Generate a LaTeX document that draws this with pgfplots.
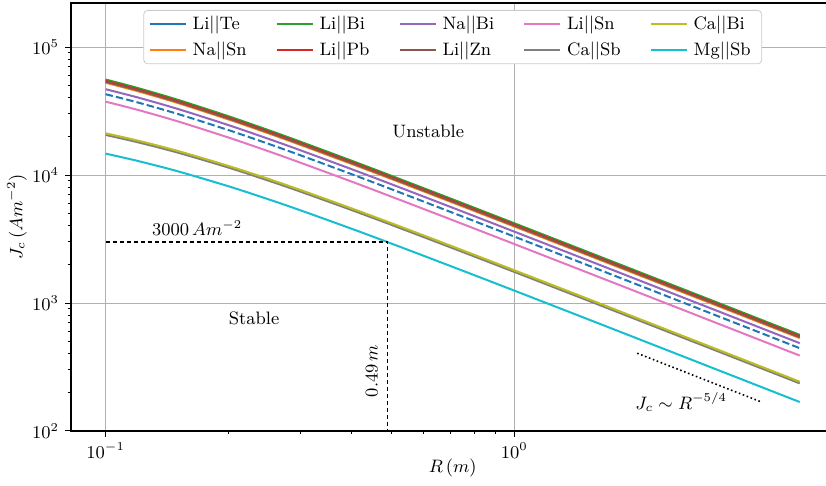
\documentclass[border=0pt]{standalone}
\usepackage{pgfplots}
\usepackage{pgfplotstable}
\pgfplotsset{compat=1.18}

% tab10 colours
\definecolor{tblue}{HTML}{1F77B4}
\definecolor{torange}{HTML}{FF7F0E}
\definecolor{tgreen}{HTML}{2CA02C}
\definecolor{tred}{HTML}{D62728}
\definecolor{tpurple}{HTML}{9467BD}
\definecolor{tbrown}{HTML}{8C564B}
\definecolor{tpink}{HTML}{E377C2}
\definecolor{tgray}{HTML}{7F7F7F}
\definecolor{tolive}{HTML}{BCBD22}
\definecolor{tcyan}{HTML}{17BECF}

% critical current density J_c (A m^-2) against radius R (m)
\pgfplotstableread{
R    LiTe   NaSn   LiBi   LiPb   NaBi   LiZn   LiSn   CaSb   CaBi   MgSb
0.1  42790  52622  55740  54346  46810  53477  37440  20560  21185  14690
0.12 36844  45098  47770  46575  40306  45831  32238  18012  18559  12869
0.15 30037  36573  38740  37771  32859  37167  26281  14979  15434  10702
0.2  22415  27142  28750  28031  24521  27583  19613  11420  11767  8160
0.25 17551  21194  22450  21889  19200  21539  15357  9055   9330   6470
0.3  14251  17172  18190  17735  15590  17452  12469  7410   7635   5294
0.4  10151  12207  12930  12607  11105  12405  8882   5323   5485   3803
0.5  7755   9319   9871   9624   8484   9470   6786   4084   4208   2918
0.7  5136   6167   6532   6369   5619   6267   4494   2715   2798   1940
1    3305   3965   4200   4095   3615   4029   2891   1751   1804   1251
1.5  1996   2394   2536   2473   2183   2433   1746   1059   1091   756.5
2    1394   1672   1771   1727   1525   1699   1220   739.6  762.1  528.5
3    840.2  1008   1068   1041   919.1  1025   735.1  445.9  459.5  318.6
4    586.5  703.6  745.3  726.7  641.6  715.0  513.2  311.3  320.8  222.5
5    443.8  532.4  563.9  549.8  485.5  541.0  388.3  235.6  242.8  168.4
}\jc

\begin{document}
\fontsize{9}{11}\selectfont
\begin{tikzpicture}
\begin{axis}[
    name=ax,
    scale only axis,
    width=381.7pt,
    height=214pt,
    xmode=log, ymode=log,
    xmin=0.08225, xmax=6.0795,
    ymin=100, ymax=220800,
    xtick={0.1,1},
    ytick={100,1000,10000,100000},
    tick align=outside,
    tick pos=left,
    major tick length=2.8pt,
    minor tick length=1.6pt,
    every tick/.style={black, line width=0.5pt},
    axis line style={black, line width=0.6pt},
    grid=major,
    major grid style={black!31, line width=0.45pt},
    clip mode=individual,
    xlabel={$R\,(m)$},
    ylabel={$J_c\,(Am^{-2})$},
    xlabel style={at={(axis description cs:0.5,0)}, anchor=center, yshift=-18.5pt},
    ylabel style={at={(axis description cs:-0.0707,0.5)}, anchor=center},
    legend columns=5,
    legend cell align=left,
    legend image code/.code={\draw[#1, solid] (0pt,0pt) -- (18pt,0pt);},
    legend style={at={(0.5,1)}, anchor=north, yshift=-3.5pt,
        draw=black!20, rounded corners=2pt, fill=white,
        inner xsep=2.5pt, inner ysep=1.5pt, row sep=1.5pt,
        nodes={inner xsep=3pt, inner ysep=1.5pt},
        /tikz/every odd column/.append style={column sep=0pt},
        /tikz/every even column/.append style={column sep=11.5pt}},
    every axis plot/.append style={line width=1pt},
]
% curves, drawn in the original order
\addplot[forget plot, tblue, smooth, dash pattern=on 3.7pt off 1.6pt] table[x=R, y=LiTe] {\jc};
\addplot[forget plot, torange, smooth] table[x=R, y=NaSn] {\jc};
\addplot[forget plot, tgreen, smooth] table[x=R, y=LiBi] {\jc};
\addplot[forget plot, tred, smooth] table[x=R, y=LiPb] {\jc};
\addplot[forget plot, tpurple, smooth] table[x=R, y=NaBi] {\jc};
\addplot[forget plot, tbrown, smooth] table[x=R, y=LiZn] {\jc};
\addplot[forget plot, tpink, smooth] table[x=R, y=LiSn] {\jc};
\addplot[forget plot, tgray, smooth] table[x=R, y=CaSb] {\jc};
\addplot[forget plot, tolive, smooth] table[x=R, y=CaBi] {\jc};
\addplot[forget plot, tcyan, smooth] table[x=R, y=MgSb] {\jc};

% legend filled column by column, as in the original
\addlegendimage{tblue, line width=1pt}
\addlegendimage{tgreen, line width=1pt}
\addlegendimage{tpurple, line width=1pt}
\addlegendimage{tpink, line width=1pt}
\addlegendimage{tolive, line width=1pt}
\addlegendimage{torange, line width=1pt}
\addlegendimage{tred, line width=1pt}
\addlegendimage{tbrown, line width=1pt}
\addlegendimage{tgray, line width=1pt}
\addlegendimage{tcyan, line width=1pt}
\legend{Li$||$Te, Li$||$Bi, Na$||$Bi, Li$||$Sn, Ca$||$Bi, Na$||$Sn, Li$||$Pb, Li$||$Zn, Ca$||$Sb, Mg$||$Sb}

% stability threshold and slope guide
\addplot[forget plot, black, line width=0.6pt, dash pattern=on 2.2pt off 1.3pt]
    coordinates {(0.1,3000) (0.49,3000) (0.49,100)};
\addplot[forget plot, black, line width=0.8pt, dash pattern=on 0.8pt off 1.3pt]
    coordinates {(2,405) (4,170)};

\node at (axis cs:0.616,21780) {Unstable};
\node at (axis cs:0.2309,764) {Stable};
\node at (axis cs:0.1675,3855) {$3000\,Am^{-2}$};
\node[rotate=90] at (axis cs:0.448,294) {$0.49\,m$};
\node at (axis cs:2.564,168.5) {$J_c \sim R^{-5/4}$};
\end{axis}
\pgfresetboundingbox
\useasboundingbox ([shift={(-35.5pt,-27pt)}]ax.south west) rectangle ([shift={(-4.2pt,1.5pt)}]ax.north east);
\end{tikzpicture}
\end{document}
